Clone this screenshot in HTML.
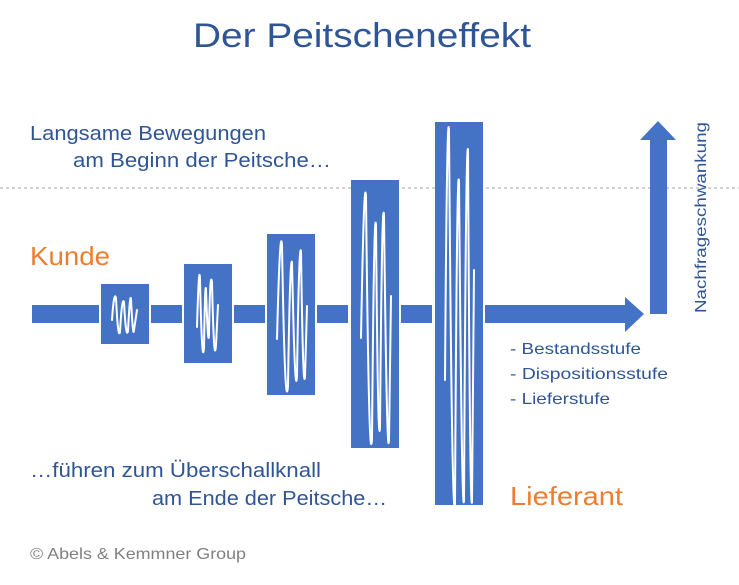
<!DOCTYPE html>
<html><head><meta charset="utf-8"><style>
html,body{margin:0;padding:0;background:#fff;}
svg{display:block;}
text{font-family:"Liberation Sans",sans-serif;}
</style></head><body>
<svg width="739" height="585" viewBox="0 0 739 585" xmlns="http://www.w3.org/2000/svg">
<text x="193" y="47" font-size="34" fill="#2F5597" textLength="338" lengthAdjust="spacingAndGlyphs">Der Peitscheneffekt</text>
<text x="30" y="140" font-size="20" fill="#2F5597" textLength="236" lengthAdjust="spacingAndGlyphs">Langsame Bewegungen</text>
<text x="73" y="167" font-size="20" fill="#2F5597" textLength="258" lengthAdjust="spacingAndGlyphs">am Beginn der Peitsche…</text>
<line x1="0" y1="188" x2="739" y2="188" stroke="#a6a6a6" stroke-width="1" stroke-dasharray="3,3"/>
<text x="30" y="265" font-size="26" fill="#ED7D31" textLength="80" lengthAdjust="spacingAndGlyphs">Kunde</text>
<g fill="#4472C4">
<rect x="32" y="305" width="67" height="18"/>
<rect x="151" y="305" width="31" height="18"/>
<rect x="234" y="305" width="31" height="18"/>
<rect x="317" y="305" width="31" height="18"/>
<rect x="401" y="305" width="31" height="18"/>
<polygon points="485,305 625,305 625,297 644,314 625,332 625,323 485,323"/>
<rect x="101" y="284" width="48" height="60"/>
<rect x="184" y="264" width="48" height="99"/>
<rect x="267" y="234" width="48" height="161"/>
<rect x="351" y="180" width="48" height="268"/>
<rect x="435" y="122" width="48" height="383"/>
<polygon points="650,314 667,314 667,140 676,140 658,121 640,140 650,140"/>
</g>
<g fill="none" stroke="#fff" stroke-width="2" stroke-linejoin="round" stroke-linecap="round">
<path d="M112 320 Q114 290 116 298 Q118 340 120 332 Q122 296 124 302 Q126 340 128 331 Q130 292 131 299 Q133 340 134 330 L137 310"/>
<path d="M197 327 Q199 260 200 279 Q202 370 204 348 Q205 280 206 289 Q208 350 209 335 Q210 268 212 282 Q214 370 216 345 L218 305"/>
<path d="M277 339 Q280 222 282 245 Q285 420 288 386 Q290 255 292 262 Q295 405 297 376 Q299 240 301 251 Q303 395 305 377 L307 306"/>
<path d="M361 338 Q364 170 366 196 Q369 480 372 439 Q374 200 376 225 Q378 460 380 427 Q382 190 384 215 Q387 470 389 440 L391 296"/>
<path d="M445 380 Q447 100 449 130 Q452 530 455 505 Q457 150 459 182 Q462 530 464 500 Q466 130 468 150 Q470 520 472 502 L474 270"/>
</g>
<text x="510" y="354" font-size="16" fill="#2F5597" textLength="131" lengthAdjust="spacingAndGlyphs">- Bestandsstufe</text>
<text x="510" y="379" font-size="16" fill="#2F5597" textLength="158" lengthAdjust="spacingAndGlyphs">- Dispositionsstufe</text>
<text x="510" y="404" font-size="16" fill="#2F5597" textLength="100" lengthAdjust="spacingAndGlyphs">- Lieferstufe</text>
<text transform="translate(706,313) rotate(-90)" font-size="16" fill="#2F5597" textLength="191" lengthAdjust="spacingAndGlyphs">Nachfrageschwankung</text>
<text x="30" y="477" font-size="20" fill="#2F5597" textLength="291" lengthAdjust="spacingAndGlyphs">…führen zum Überschallknall</text>
<text x="152" y="505" font-size="20" fill="#2F5597" textLength="235" lengthAdjust="spacingAndGlyphs">am Ende der Peitsche…</text>
<text x="510" y="505" font-size="26" fill="#ED7D31" textLength="113" lengthAdjust="spacingAndGlyphs">Lieferant</text>
<text x="30" y="559" font-size="16" fill="#808080" textLength="216" lengthAdjust="spacingAndGlyphs">© Abels &amp; Kemmner Group</text>
</svg>
</body></html>
